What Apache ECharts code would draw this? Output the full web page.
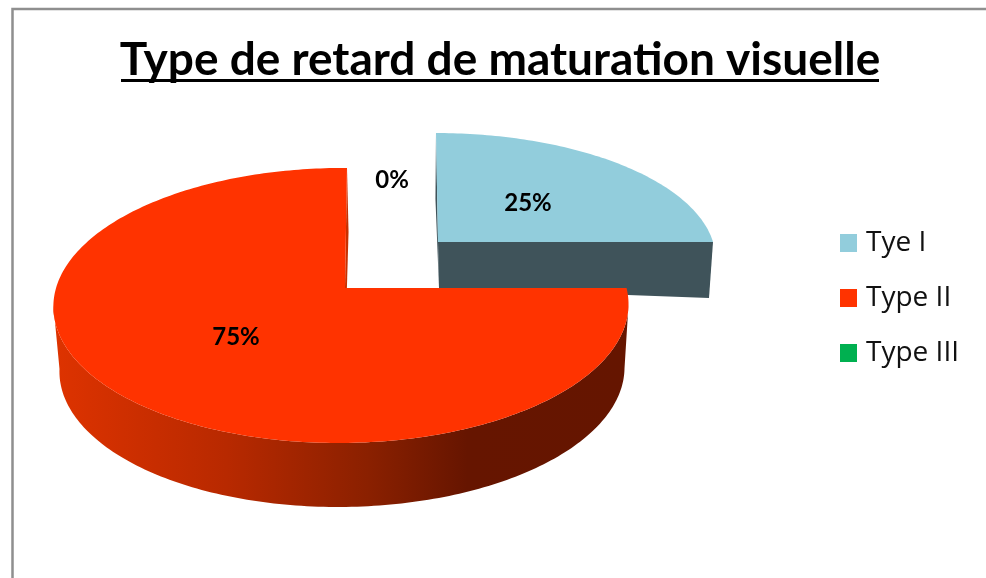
<!DOCTYPE html>
<html>
<head>
<meta charset="utf-8">
<style>html,body{margin:0;padding:0;background:#fff}#c{width:986px;height:578px}</style>
<script src="https://cdn.jsdelivr.net/npm/echarts@6/dist/echarts.min.js"></script>
</head>
<body>
<div id="c"></div>
<script>
var titleText = 'Type de retard de maturation visuelle';
var categories = ['Tye I', 'Type II', 'Type III'];
var values = [25, 75, 0];

var colors = ['#92cddc', '#ff3300', '#00b050'];
var labelPos = [[528, 203], [236, 337], [392, 180]];
var discs = [
  { top: {x0:438,y0:242,A:275,B:122.8,k:.127,m:0,s:-2.25,t:0},
    low: {x0:439,y0:288,A:270,B:100,k:.127,m:0,s:-4,t:10}, wall:'#3f535a' },
  { top: {x0:345,y0:288,A:285.2,B:135.3,k:.127,m:.013,s:2.25,t:0},
    low: {x0:345,y0:352,A:280.2,B:135.3,k:.127,m:.0088,s:4,t:0}, wall:null, backWall:'#c83000' },
  null
];
var total = values.reduce(function (a, b) { return a + b; }, 0);

function project(g, deg) {
  var r = deg * Math.PI / 180, u = Math.sin(r), v = Math.cos(r), w = 1 + g.k * v + g.m * u;
  return [g.x0 + (g.A * u + g.s * v) / w, g.y0 + (-g.B * v + g.t * u) / w];
}
function arc(g, a, b) {
  var pts = [], n = Math.max(1, Math.ceil(Math.abs(b - a)));
  for (var i = 0; i <= n; i++) pts.push(project(g, a + (b - a) * i / n));
  return pts;
}
function centre(g) { return [g.x0, g.y0]; }

function makeRender(idx) {
  return function (params, api) {
    var val = api.value(0);
    var children = [];
    var before = values.slice(0, idx).reduce(function (a, b) { return a + b; }, 0);
    var a0 = before / total * 360, a1 = (before + val) / total * 360;
    var d = discs[idx];
    if (d && val > 0) {
      if (d.wall) {
        children.push({ type: 'polygon', shape: { points: [centre(d.top), project(d.top, a0), project(d.low, a0), centre(d.low)] }, style: { fill: d.wall } });
        children.push({ type: 'polygon', shape: { points: [centre(d.top), project(d.top, a1), project(d.low, a1), centre(d.low)] }, style: { fill: d.wall } });
      } else {
        children.push({ type: 'polygon', shape: { points: [centre(d.top), project(d.top, a1), project(d.low, a1), centre(d.low)] }, style: { fill: d.backWall } });
        var from = Math.max(a0, 97), to = Math.min(a1, 263);
        var wallPts = arc(d.top, from, to).concat(arc(d.low, to, from));
        children.push({ type: 'polygon', shape: { points: wallPts }, style: {
          fill: new echarts.graphic.LinearGradient(0, 0, 1, 0, [
            { offset: 0, color: '#de3300' }, { offset: .3, color: '#b82900' },
            { offset: .55, color: '#8a2000' }, { offset: .72, color: '#661500' }, { offset: 1, color: '#651500' }
          ]) } });
      }
      children.push({ type: 'polygon', shape: { points: [centre(d.top)].concat(arc(d.top, a0, a1)) }, style: { fill: colors[idx] } });
    }
    children.push({ type: 'text', z2: 10, style: {
      x: labelPos[idx][0], y: labelPos[idx][1],
      text: Math.round(val / total * 100) + '%',
      font: 'bold 24px Lato, sans-serif', fill: '#000', align: 'center', verticalAlign: 'middle'
    } });
    return { type: 'group', children: children };
  };
}

var chart = echarts.init(document.getElementById('c'), null, { renderer: 'canvas' });
chart.setOption({
  backgroundColor: '#fff',
  animation: false,
  title: {
    text: titleText, left: 495, top: 32, textAlign: 'center',
    textStyle: { fontFamily: 'Lato, sans-serif', fontWeight: 'bold', fontSize: 46, color: '#000' }
  },
  graphic: [
    { type: 'rect', silent: true, z: -1, shape: { x: 12.5, y: 9, width: 1100, height: 700 }, style: { fill: '#fff', stroke: '#8f8f8f', lineWidth: 2.5 } },
    { type: 'rect', silent: true, z: 10, shape: { x: 121, y: 79, width: 758, height: 3 }, style: { fill: '#000' } }
  ],
  legend: {
    orient: 'vertical', left: 835, top: 224, itemWidth: 17, itemHeight: 18, itemGap: 27,
    icon: 'rect', selectedMode: false, data: categories,
    textStyle: { fontFamily: '"Open Sans", sans-serif', fontSize: 28, color: '#111', padding: [0, 0, 0, 4] }
  },
  series: categories.map(function (name, i) {
    return {
      type: 'custom', name: name, coordinateSystem: 'none', silent: true,
      itemStyle: { color: colors[i] },
      renderItem: makeRender(i),
      data: [[values[i]]], z: 2 + i
    };
  })
});
</script>
</body>
</html>
